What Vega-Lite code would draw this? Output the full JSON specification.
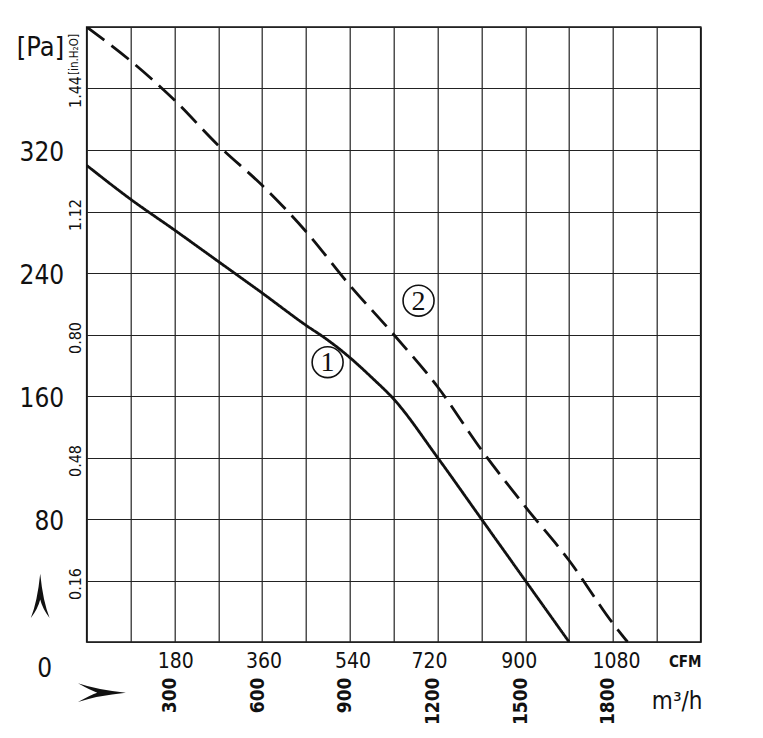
{
  "$schema": "https://vega.github.io/schema/vega-lite/v6.json",
  "autosize": "none",
  "width": 614,
  "height": 615,
  "padding": {"left": 86.7, "top": 27, "right": 62.3, "bottom": 96},
  "background": "white",
  "config": {
    "view": {"stroke": "#111", "strokeWidth": 1.6},
    "axis": {
      "domain": false,
      "ticks": false,
      "gridColor": "#222",
      "gridOpacity": 1,
      "gridWidth": 1.2,
      "labelColor": "#111",
      "titleColor": "#111",
      "labelFont": "DejaVu Sans Condensed, sans-serif",
      "titleFont": "DejaVu Sans Condensed, sans-serif",
      "labelOverlap": false,
      "labelFlush": false,
      "labelBound": false
    }
  },
  "datasets": {
    "curves": [
      {"curve": "1", "flow": 0, "pa": 310},
      {"curve": "1", "flow": 150, "pa": 288},
      {"curve": "1", "flow": 300, "pa": 268},
      {"curve": "1", "flow": 450, "pa": 247.5},
      {"curve": "1", "flow": 600, "pa": 227},
      {"curve": "1", "flow": 750, "pa": 206},
      {"curve": "1", "flow": 820, "pa": 197},
      {"curve": "1", "flow": 900, "pa": 185},
      {"curve": "1", "flow": 975, "pa": 172},
      {"curve": "1", "flow": 1050, "pa": 158},
      {"curve": "1", "flow": 1200, "pa": 120},
      {"curve": "1", "flow": 1350, "pa": 80},
      {"curve": "1", "flow": 1500, "pa": 40},
      {"curve": "1", "flow": 1650, "pa": 0},
      {"curve": "2", "flow": 0, "pa": 400},
      {"curve": "2", "flow": 150, "pa": 378},
      {"curve": "2", "flow": 300, "pa": 352.5},
      {"curve": "2", "flow": 450, "pa": 323},
      {"curve": "2", "flow": 600, "pa": 297},
      {"curve": "2", "flow": 750, "pa": 267},
      {"curve": "2", "flow": 900, "pa": 232},
      {"curve": "2", "flow": 1050, "pa": 200},
      {"curve": "2", "flow": 1200, "pa": 166},
      {"curve": "2", "flow": 1350, "pa": 125},
      {"curve": "2", "flow": 1500, "pa": 88},
      {"curve": "2", "flow": 1650, "pa": 53},
      {"curve": "2", "flow": 1800, "pa": 12},
      {"curve": "2", "flow": 1850, "pa": 0}
    ],
    "tags": [
      {"label": "1", "flow": 824, "pa": 182},
      {"label": "2", "flow": 1135, "pa": 222}
    ],
    "arrows": [
      {"dir": "up", "flow": -159, "pa": 30},
      {"dir": "right", "flow": 52, "pa": -33}
    ]
  },
  "layer": [
    {
      "data": {"name": "curves"},
      "mark": {"type": "line", "color": "#111", "strokeWidth": 2.8, "clip": true, "interpolate": "monotone"},
      "encoding": {
        "x": {
          "field": "flow", "type": "quantitative",
          "scale": {"domain": [0, 2100], "nice": false, "zero": false},
          "axis": {
            "orient": "bottom",
            "values": [0, 150, 300, 450, 600, 750, 900, 1050, 1200, 1350, 1500, 1650, 1800, 1950, 2100],
            "grid": true,
            "format": "d",
            "labelExpr": "datum.value % 300 == 0 && datum.value > 0 && datum.value < 2100 ? datum.label : ''",
            "labelAngle": -90,
            "labelAlign": "right",
            "labelBaseline": "middle",
            "labelPadding": 35,
            "labelOffset": -5,
            "labelFontSize": 19,
            "labelFontWeight": "bold",
            "title": "m³/h",
            "titleX": 590,
            "titleY": 59,
            "titleAngle": 0,
            "titleAlign": "center",
            "titleBaseline": "middle",
            "titleFontSize": 24,
            "titleFontWeight": "normal"
          }
        },
        "y": {
          "field": "pa", "type": "quantitative",
          "scale": {"domain": [0, 400], "nice": false, "zero": false},
          "axis": {
            "orient": "left",
            "values": [0, 40, 80, 120, 160, 200, 240, 280, 320, 360, 400],
            "grid": true,
            "labelExpr": "datum.value % 80 == 0 && datum.value < 400 ? datum.label : ''",
            "labelFontSize": 26,
            "labelAlign": "right",
            "labelBaseline": "middle",
            "labelPadding": {"condition": {"test": "datum.value == 0", "value": 35}, "value": 23},
            "labelOffset": {"condition": {"test": "datum.value == 0", "value": 26}, "value": 2},
            "title": "[Pa]",
            "titleX": -46.7,
            "titleY": 20,
            "titleAngle": 0,
            "titleAlign": "center",
            "titleBaseline": "middle",
            "titleFontSize": 27,
            "titleFontWeight": "normal"
          }
        },
        "strokeDash": {
          "field": "curve", "type": "nominal",
          "scale": {"domain": ["1", "2"], "range": [[1, 0], [22, 9]]},
          "legend": null
        }
      }
    },
    {
      "data": {"name": "tags"},
      "mark": {"type": "point", "shape": "circle", "size": 960, "filled": true, "fill": "white", "stroke": "#111", "strokeWidth": 1.6, "opacity": 1},
      "encoding": {
        "x": {
          "field": "flow", "type": "quantitative",
          "scale": {"domain": [0, 2100], "nice": false, "zero": false},
          "axis": {
            "orient": "bottom",
            "values": [303, 605, 909, 1171, 1478, 1810],
            "grid": false,
            "labelExpr": "format(round(datum.value / 1.699 / 180) * 180, 'd')",
            "labelAngle": 0,
            "labelAlign": "center",
            "labelBaseline": "top",
            "labelPadding": 8,
            "labelFontSize": 21,
            "title": "CFM",
            "titleX": 598,
            "titleY": 19,
            "titleAngle": 0,
            "titleAlign": "center",
            "titleBaseline": "middle",
            "titleFontSize": 15,
            "titleFontWeight": "bold"
          }
        },
        "y": {
          "field": "pa", "type": "quantitative",
          "scale": {"domain": [0, 400], "nice": false, "zero": false},
          "axis": {
            "orient": "left",
            "values": [40, 120, 200, 280, 360],
            "grid": false,
            "labelExpr": "format(datum.value * 0.004, '.2f')",
            "labelAngle": -90,
            "labelAlign": "center",
            "labelBaseline": "bottom",
            "labelPadding": 3,
            "labelOffset": 3,
            "labelFontSize": 16,
            "title": "[in.H₂O]",
            "titleX": -12,
            "titleY": 27,
            "titleAngle": -90,
            "titleAlign": "center",
            "titleBaseline": "middle",
            "titleFontSize": 11.5,
            "titleFontWeight": "normal"
          }
        }
      }
    },
    {
      "data": {"name": "tags"},
      "mark": {"type": "text", "font": "Liberation Serif", "fontSize": 28, "align": "center", "baseline": "middle", "dy": 1, "color": "#111"},
      "encoding": {
        "x": {"field": "flow", "type": "quantitative", "scale": {"domain": [0, 2100], "nice": false, "zero": false}, "axis": null},
        "y": {"field": "pa", "type": "quantitative", "scale": {"domain": [0, 400], "nice": false, "zero": false}, "axis": null},
        "text": {"field": "label", "type": "nominal"}
      }
    },
    {
      "data": {"name": "arrows"},
      "mark": {"type": "point", "size": 2200, "filled": true, "color": "#111", "opacity": 1, "strokeWidth": 0},
      "encoding": {
        "x": {"field": "flow", "type": "quantitative", "scale": {"domain": [0, 2100], "nice": false, "zero": false}, "axis": null},
        "y": {"field": "pa", "type": "quantitative", "scale": {"domain": [0, 400], "nice": false, "zero": false}, "axis": null},
        "shape": {
          "field": "dir", "type": "nominal",
          "scale": {"domain": ["up", "right"], "range": [
            "M0,-0.94 Q0.12,0.25 0.4,0.94 Q0.1,0.55 0,0.15 Q-0.1,0.55 -0.4,0.94 Q-0.12,0.25 0,-0.94 Z",
            "M1.02,0 Q-0.2,-0.12 -1.02,-0.4 Q-0.45,-0.08 -0.2,0 Q-0.45,0.08 -1.02,0.4 Q-0.2,0.12 1.02,0 Z"
          ]},
          "legend": null
        }
      }
    }
  ],
  "resolve": {"axis": {"x": "independent", "y": "independent"}}
}
